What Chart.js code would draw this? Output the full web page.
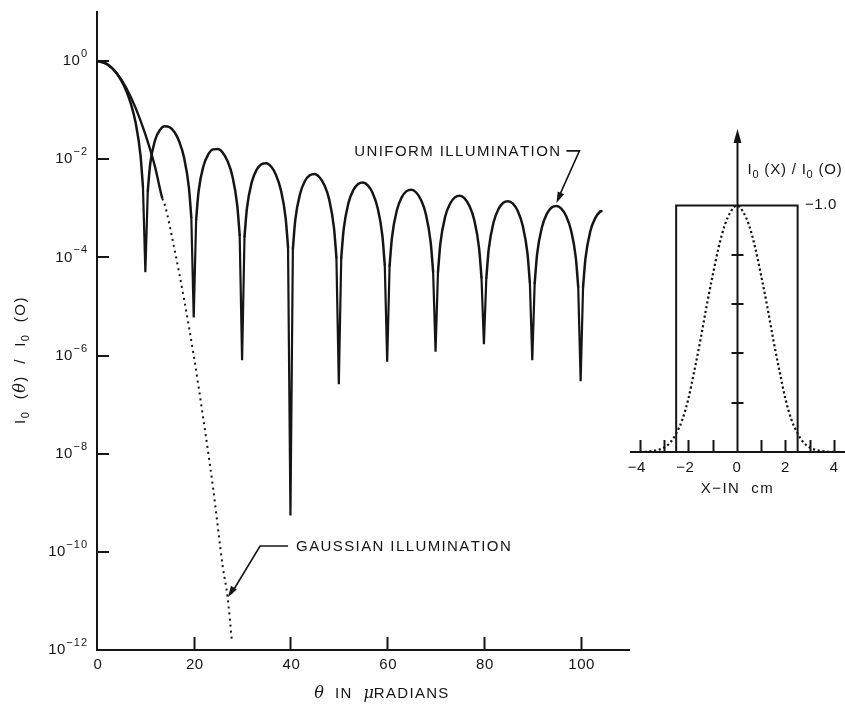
<!DOCTYPE html>
<html>
<head>
<meta charset="utf-8">
<title>Far-field intensity: uniform vs Gaussian illumination</title>
<script src="https://cdn.jsdelivr.net/npm/chart.js@4/dist/chart.umd.min.js"></script>
<style>
  html, body { margin: 0; padding: 0; background: #ffffff; }
  #wrap { position: relative; width: 845px; height: 706px; overflow: hidden; }
  #mainPlot { position: absolute; left: 0; top: 0; }
  #apertureInset { position: absolute; left: 600px; top: 100px; }
</style>
</head>
<body>
<div id="wrap">
  <canvas id="mainPlot" width="845" height="706"></canvas>
  <canvas id="apertureInset" width="245" height="400"></canvas>
</div>
<script>
// ---- far-field pattern, uniform illumination (theta in microradians), lobe samples ----
const thetaUniform = [
  0, 1, 2, 3, 4, 5, 6, 7, 8, 9, 9.5,
  10.5, 11, 12, 13, 14, 15, 16, 17, 18, 19, 19.5,
  20.5, 21, 22, 23, 24, 25, 26, 27, 28, 29, 29.5,
  30.5, 31, 32, 33, 34, 35, 36, 37, 38, 39, 39.5,
  40.5, 41, 42, 43, 44, 45, 46, 47, 48, 49, 49.5,
  50.5, 51, 52, 53, 54, 55, 56, 57, 58, 59, 59.5,
  60.5, 61, 62, 63, 64, 65, 66, 67, 68, 69, 69.5,
  70.5, 71, 72, 73, 74, 75, 76, 77, 78, 79, 79.5,
  80.5, 81, 82, 83, 84, 85, 86, 87, 88, 89, 89.5,
  90.5, 91, 92, 93, 94, 95, 96, 97, 98, 99, 99.5,
  100.5, 101, 102, 103, 104, 104.3
];
const uniformIntensity = [
  1, 0.97, 0.875, 0.737, 0.573, 0.405, 0.255, 0.135, 0.0547, 0.0119, 2.75e-3,
  2.25e-3, 8.0e-3, 0.0243, 0.0392, 0.0468, 0.045, 0.0358, 0.023, 0.0108, 2.68e-3, 6.5e-4,
  5.9e-4, 2.19e-3, 7.2e-3, 0.0125, 0.0159, 0.0162, 0.0136, 9.1e-3, 4.5e-3, 1.15e-3, 2.85e-4,
  2.66e-4, 1.0e-3, 3.42e-3, 6.1e-3, 7.9e-3, 8.3e-3, 7.1e-3, 4.8e-3, 2.4e-3, 6.4e-4, 1.6e-4,
  1.5e-4, 5.8e-4, 1.98e-3, 3.6e-3, 4.7e-3, 5.0e-3, 4.3e-3, 3.0e-3, 1.52e-3, 4.0e-4, 1.0e-4,
  9.7e-5, 3.7e-4, 1.29e-3, 2.36e-3, 3.14e-3, 3.35e-3, 2.92e-3, 2.04e-3, 1.04e-3, 2.8e-4, 7.0e-5,
  6.8e-5, 2.6e-4, 9.1e-4, 1.67e-3, 2.24e-3, 2.4e-3, 2.1e-3, 1.48e-3, 7.6e-4, 2.0e-4, 5.1e-5,
  5.0e-5, 1.92e-4, 6.8e-4, 1.24e-3, 1.67e-3, 1.8e-3, 1.59e-3, 1.12e-3, 5.8e-4, 1.55e-4, 3.9e-5,
  3.8e-5, 1.47e-4, 5.2e-4, 9.6e-4, 1.3e-3, 1.4e-3, 1.24e-3, 8.8e-4, 4.5e-4, 1.22e-4, 3.1e-5,
  3.0e-5, 1.17e-4, 4.1e-4, 7.7e-4, 1.04e-3, 1.12e-3, 9.9e-4, 7.0e-4, 3.6e-4, 9.9e-5, 2.5e-5,
  2.45e-5, 9.5e-5, 3.4e-4, 6.25e-4, 8.5e-4, 8.8e-4
];
// nulls of the uniform pattern and how deep each one is drawn
const nullTheta = [10, 20, 30, 40, 50, 60, 70, 80, 90, 100];
const nullDepth = [5e-5, 6e-6, 8e-7, 5.5e-10, 2.6e-7, 7.5e-7, 1.2e-6, 1.7e-6, 8e-7, 3e-7];

// ---- far-field pattern, Gaussian illumination ----
const thetaGaussian = [0, 2, 4, 6, 8, 10, 12, 13.5, 14, 16, 18, 20, 22, 24, 26, 27, 27.9];
const gaussianIntensity = [1, 0.87, 0.58, 0.29, 0.11, 0.032, 7e-3, 1.6e-3, 1.2e-3, 1.5e-4, 1.4e-5, 1.0e-6, 5e-8, 2e-9, 5e-11, 1.2e-11, 1.5e-12];
const gaussianSolidUntil = 13.5;

// ---- axes of the main plot ----
const yTickExponents = [0, -2, -4, -6, -8, -10, -12];
const xTickValues = [0, 20, 40, 60, 80, 100];

// ---- callouts (data points the arrows touch) ----
const uniformNote = { text: 'UNIFORM ILLUMINATION', theta: 95, value: 1.12e-3 };
const gaussianNote = { text: 'GAUSSIAN ILLUMINATION', theta: 27.1, value: 1.2e-11 };

// ---- aperture illumination profiles (inset), x in cm ----
const apertureX = [-2.5, -2.5, 2.5, 2.5];
const apertureUniform = [0, 1, 1, 0];
const apertureGaussX = [-4, -3.75, -3.5, -3.25, -3, -2.75, -2.5, -2.25, -2, -1.75, -1.5, -1.25, -1, -0.75, -0.5, -0.25,
  0, 0.25, 0.5, 0.75, 1, 1.25, 1.5, 1.75, 2, 2.25, 2.5, 2.75, 3, 3.25, 3.5, 3.75, 4];
const apertureGaussian = [0, 0.001, 0.004, 0.008, 0.018, 0.038, 0.075, 0.13, 0.215, 0.33, 0.455, 0.59, 0.715, 0.83, 0.92, 0.975,
  1.0, 0.975, 0.92, 0.83, 0.715, 0.59, 0.455, 0.33, 0.215, 0.13, 0.075, 0.038, 0.018, 0.008, 0.004, 0.001, 0];
const insetXTicks = [-4, -3, -2, -1, 1, 2, 3, 4];
const insetXLabels = [-4, -2, 0, 2, 4];
const insetYTicks = [0.2, 0.4, 0.6, 0.8];

const INK = '#151515';
const FONT = '"Liberation Sans", Arial, Helvetica, sans-serif';
const MINUS = '\u2212';

function toPoints(xs, ys) { return xs.map((v, i) => ({ x: v, y: ys[i] })); }

// smooth lobes: break the line at every null
function lobePoints() {
  const pts = [];
  let n = 0;
  thetaUniform.forEach((t, i) => {
    while (n < nullTheta.length && nullTheta[n] < t) { pts.push({ x: nullTheta[n], y: null }); n++; }
    pts.push({ x: t, y: uniformIntensity[i] });
  });
  return pts;
}
// sharp spikes: straight segments from the neighbouring lobe samples down to each null
function spikePoints() {
  const pts = [];
  nullTheta.forEach((t, k) => {
    let before = -1, after = -1;
    thetaUniform.forEach((v, i) => { if (v < t) before = i; if (v > t && after < 0) after = i; });
    if (before >= 0) pts.push({ x: thetaUniform[before], y: uniformIntensity[before] });
    pts.push({ x: t, y: nullDepth[k] });
    if (after >= 0) pts.push({ x: thetaUniform[after], y: uniformIntensity[after] });
    pts.push({ x: t + 0.5, y: null });
  });
  return pts;
}

// draw a sequence of text runs (each with own font, vertical shift and letter spacing)
function runsWidth(ctx, runs) {
  let w = 0;
  runs.forEach(r => {
    ctx.font = r.font;
    for (const ch of r.t) w += ctx.measureText(ch).width + (r.sp || 0);
  });
  return w;
}
function drawRuns(ctx, runs, x, y) {
  let cx = x;
  runs.forEach(r => {
    ctx.font = r.font;
    for (const ch of r.t) {
      ctx.fillText(ch, cx, y + (r.dy || 0));
      cx += ctx.measureText(ch).width + (r.sp || 0);
    }
  });
  return cx - x;
}
function arrowHead(ctx, fromX, fromY, toX, toY, len, half) {
  const ang = Math.atan2(toY - fromY, toX - fromX);
  ctx.beginPath();
  ctx.moveTo(toX, toY);
  ctx.lineTo(toX - len * Math.cos(ang) + half * Math.sin(ang), toY - len * Math.sin(ang) - half * Math.cos(ang));
  ctx.lineTo(toX - len * Math.cos(ang) - half * Math.sin(ang), toY - len * Math.sin(ang) + half * Math.cos(ang));
  ctx.closePath();
  ctx.fill();
}

const F15 = '15px ' + FONT;
const F11 = '11px ' + FONT;
const ITAL = 'italic 16px "DejaVu Serif", "Liberation Serif", serif';

// ticks, tick labels, titles and callouts of the main plot
const mainDecor = {
  id: 'mainDecor',
  afterDraw(chart) {
    const { ctx, chartArea: a, scales: { x, y } } = chart;
    ctx.save();
    ctx.strokeStyle = INK;
    ctx.fillStyle = INK;
    ctx.lineWidth = 2;

    // inward tick marks
    ctx.beginPath();
    yTickExponents.forEach(e => {
      const py = Math.round(y.getPixelForValue(Math.pow(10, e)));
      if (py < a.bottom - 2) { ctx.moveTo(a.left, py); ctx.lineTo(a.left + 12, py); }
    });
    xTickValues.forEach(v => {
      const px = Math.round(x.getPixelForValue(v)) + 0.5;
      if (px > a.left + 2) { ctx.moveTo(px, a.bottom); ctx.lineTo(px, a.bottom - 13); }
    });
    ctx.stroke();

    // y tick labels 10^n
    ctx.textBaseline = 'middle';
    ctx.textAlign = 'left';
    yTickExponents.forEach(e => {
      const py = y.getPixelForValue(Math.pow(10, e));
      const expRun = [{ t: e === 0 ? '0' : MINUS + String(-e), font: F11, sp: 1, dy: -7 }];
      const ew = runsWidth(ctx, expRun);
      const right = a.left - 9;
      drawRuns(ctx, expRun, right - ew, py);
      const base = [{ t: '10', font: F15, sp: 0.5 }];
      const bw = runsWidth(ctx, base);
      drawRuns(ctx, base, right - ew - bw - 0.5, py);
    });

    // x tick labels
    xTickValues.forEach(v => {
      const run = [{ t: String(v), font: F15, sp: 0.5 }];
      const w = runsWidth(ctx, run);
      drawRuns(ctx, run, x.getPixelForValue(v) - w / 2 + 1, a.bottom + 15);
    });

    // x title
    const xTitle = [
      { t: '\u03B8', font: ITAL, sp: 0 },
      { t: '  IN  ', font: F15, sp: 1.3 },
      { t: '\u03BC', font: ITAL, sp: 0 },
      { t: 'RADIANS', font: F15, sp: 1.3 }
    ];
    ctx.textBaseline = 'alphabetic';
    const xtw = runsWidth(ctx, xTitle);
    drawRuns(ctx, xTitle, 382 - xtw / 2, a.bottom + 48);

    // y title (rotated)
    const yTitle = [
      { t: 'I', font: F15, sp: 1.5 },
      { t: '0', font: F11, sp: 1.5, dy: 4 },
      { t: '  (', font: F15, sp: 1.5 },
      { t: '\u03B8', font: ITAL, sp: 1.5 },
      { t: ')  /  I', font: F15, sp: 1.5 },
      { t: '0', font: F11, sp: 1.5, dy: 4 },
      { t: '  (O)', font: F15, sp: 1.5 }
    ];
    ctx.save();
    ctx.translate(25, 360);
    ctx.rotate(-Math.PI / 2);
    const ytw = runsWidth(ctx, yTitle);
    drawRuns(ctx, yTitle, -ytw / 2, 0);
    ctx.restore();

    // callout: uniform illumination
    ctx.lineWidth = 1.6;
    const tu = { x: x.getPixelForValue(uniformNote.theta), y: y.getPixelForValue(uniformNote.value) - 3 };
    const ue = { x: tu.x + 23, y: tu.y - 52 };
    ctx.beginPath();
    ctx.moveTo(tu.x + 10, ue.y);
    ctx.lineTo(ue.x, ue.y);
    ctx.lineTo(tu.x + 1.5, tu.y - 4);
    ctx.stroke();
    arrowHead(ctx, ue.x, ue.y, tu.x, tu.y, 11, 3.5);
    const uRun = [{ t: uniformNote.text, font: F15, sp: 1.4 }];
    const uw = runsWidth(ctx, uRun);
    ctx.textBaseline = 'middle';
    drawRuns(ctx, uRun, tu.x + 5 - uw, ue.y + 1);

    // callout: gaussian illumination
    const tg = { x: x.getPixelForValue(gaussianNote.theta), y: y.getPixelForValue(gaussianNote.value) };
    const ge = { x: tg.x + 32, y: tg.y - 51 };
    ctx.beginPath();
    ctx.moveTo(tg.x + 60, ge.y);
    ctx.lineTo(ge.x, ge.y);
    ctx.lineTo(tg.x + 3, tg.y - 3);
    ctx.stroke();
    arrowHead(ctx, ge.x, ge.y, tg.x, tg.y, 11, 3.5);
    drawRuns(ctx, [{ t: gaussianNote.text, font: F15, sp: 1.4 }], tg.x + 68, ge.y + 1);

    ctx.restore();
  }
};

new Chart(document.getElementById('mainPlot'), {
  type: 'line',
  data: {
    datasets: [
      {
        label: 'Gaussian illumination',
        data: toPoints(thetaGaussian, gaussianIntensity),
        borderColor: INK,
        borderWidth: 2.2,
        pointRadius: 0,
        fill: false,
        cubicInterpolationMode: 'monotone',
        segment: {
          borderDash: c => (c.p0.parsed.x >= gaussianSolidUntil ? [2, 4] : undefined),
          borderWidth: c => (c.p0.parsed.x >= gaussianSolidUntil ? 2 : 2.4)
        }
      },
      {
        label: 'Uniform illumination',
        data: lobePoints(),
        borderColor: INK,
        borderWidth: 2.5,
        pointRadius: 0,
        fill: false,
        spanGaps: false,
        borderCapStyle: 'round',
        borderJoinStyle: 'round',
        cubicInterpolationMode: 'monotone'
      },
      {
        label: 'Uniform illumination nulls',
        data: spikePoints(),
        borderColor: INK,
        borderWidth: 2.2,
        pointRadius: 0,
        fill: false,
        spanGaps: false,
        tension: 0,
        borderCapStyle: 'round',
        borderJoinStyle: 'miter'
      }
    ]
  },
  options: {
    responsive: false,
    animation: false,
    events: [],
    layout: { padding: { left: 97, top: 12, right: 216, bottom: 56 } },
    plugins: { legend: { display: false }, tooltip: { enabled: false } },
    scales: {
      x: {
        type: 'linear', min: 0, max: 110,
        grid: { display: false, drawTicks: false },
        ticks: { display: false },
        border: { display: true, color: INK, width: 2 }
      },
      y: {
        type: 'logarithmic', min: 1e-12, max: 10,
        grid: { display: false, drawTicks: false },
        ticks: { display: false },
        border: { display: true, color: INK, width: 2 }
      }
    }
  },
  plugins: [mainDecor]
});

// axes, ticks and labels of the aperture inset
const insetDecor = {
  id: 'insetDecor',
  afterDraw(chart) {
    const { ctx, chartArea: a, scales: { x, y } } = chart;
    const x0 = Math.round(x.getPixelForValue(0)) + 0.5;
    const y0 = Math.round(y.getPixelForValue(0));
    ctx.save();
    ctx.strokeStyle = INK;
    ctx.fillStyle = INK;
    ctx.lineWidth = 2;
    ctx.beginPath();
    // horizontal axis
    ctx.moveTo(a.left, y0); ctx.lineTo(a.right, y0);
    // vertical axis
    ctx.moveTo(x0, y0); ctx.lineTo(x0, a.top + 10);
    // x ticks
    insetXTicks.forEach(v => {
      const px = Math.round(x.getPixelForValue(v)) + 0.5;
      ctx.moveTo(px, y0); ctx.lineTo(px, y0 - 12);
    });
    // y ticks
    insetYTicks.forEach(v => {
      const py = Math.round(y.getPixelForValue(v));
      ctx.moveTo(x0 - 6, py); ctx.lineTo(x0 + 6, py);
    });
    ctx.stroke();
    // arrow on vertical axis
    ctx.beginPath();
    ctx.moveTo(x0, a.top);
    ctx.lineTo(x0 - 4, a.top + 14);
    ctx.lineTo(x0 + 4, a.top + 14);
    ctx.closePath();
    ctx.fill();

    ctx.textBaseline = 'middle';
    insetXLabels.forEach(v => {
      const run = [{ t: v < 0 ? MINUS + String(-v) : String(v), font: F15, sp: 0.5 }];
      const w = runsWidth(ctx, run);
      const shift = v < 0 ? -3 : 0;
      drawRuns(ctx, run, x.getPixelForValue(v) - w / 2 + shift, y0 + 16);
    });
    const xt = [{ t: 'X' + MINUS + 'IN  cm', font: F15, sp: 1.4 }];
    const xtw = runsWidth(ctx, xt);
    drawRuns(ctx, xt, x0 - xtw / 2, y0 + 37);

    // level label at 1.0
    drawRuns(ctx, [{ t: MINUS + '1.0', font: F15, sp: 0.6 }], a.right - 40, y.getPixelForValue(1) - 1);

    // vertical axis title
    ctx.textBaseline = 'alphabetic';
    drawRuns(ctx, [
      { t: 'I', font: F15, sp: 0.8 },
      { t: '0', font: F11, sp: 0.8, dy: 4 },
      { t: ' (X) / I', font: F15, sp: 0.8 },
      { t: '0', font: F11, sp: 0.8, dy: 4 },
      { t: ' (O)', font: F15, sp: 0.8 }
    ], x0 + 10, y.getPixelForValue(1) - 31);
    ctx.restore();
  }
};

new Chart(document.getElementById('apertureInset'), {
  type: 'line',
  data: {
    datasets: [
      {
        label: 'Uniform aperture',
        data: toPoints(apertureX, apertureUniform),
        borderColor: INK,
        borderWidth: 2,
        pointRadius: 0,
        fill: false,
        tension: 0
      },
      {
        label: 'Gaussian aperture',
        data: toPoints(apertureGaussX, apertureGaussian),
        borderColor: INK,
        borderWidth: 2.2,
        borderDash: [2.2, 2.6],
        pointRadius: 0,
        fill: false,
        cubicInterpolationMode: 'monotone'
      }
    ]
  },
  options: {
    responsive: false,
    animation: false,
    events: [],
    layout: { padding: { left: 30, right: 0, top: 29, bottom: 48 } },
    plugins: { legend: { display: false }, tooltip: { enabled: false } },
    scales: {
      x: { type: 'linear', min: -4.4, max: 4.45, display: false },
      y: { type: 'linear', min: 0, max: 1.31, display: false }
    }
  },
  plugins: [insetDecor]
});
</script>
</body>
</html>
